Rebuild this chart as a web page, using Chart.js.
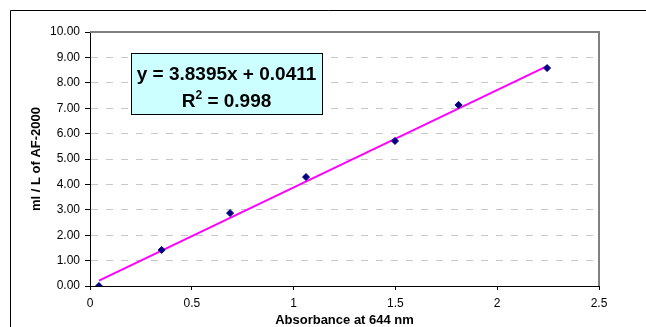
<!DOCTYPE html>
<html>
<head>
<meta charset="utf-8">
<script src="https://cdn.jsdelivr.net/npm/chart.js@4/dist/chart.umd.min.js"></script>
<style>
  html, body { margin: 0; padding: 0; background: #fff; }
  #wrap { position: relative; width: 646px; height: 327px; }
</style>
</head>
<body>
<div id="wrap"><canvas id="myChart" width="646" height="327"></canvas></div>
<script>
// Measured points (absorbance vs. ml/L)
const absorbance = [0.044, 0.352, 0.688, 1.061, 1.498, 1.81, 2.245];
const concentration = [0.0, 1.42, 2.87, 4.29, 5.71, 7.13, 8.58];

// Trendline endpoints
const trendX = [0.044, 2.245];
const trendY = [0.21, 8.66];

const xTicks = [0, 0.5, 1, 1.5, 2, 2.5];
const equationText = 'y = 3.8395x + 0.0411';
const r2Text = ['R', '2', ' = 0.998'];

Chart.defaults.font.family = '"Liberation Sans", Arial, sans-serif';
Chart.defaults.color = '#000';

// outer frame + plot frame + equation box
const decorations = {
    id: 'decorations',
    beforeDraw(chart) {
        const c = chart.ctx;
        c.save();
        c.fillStyle = '#fff';
        c.fillRect(0, 0, chart.width, chart.height);
        c.strokeStyle = '#000';
        c.lineWidth = 1;
        c.beginPath();
        c.moveTo(10.5, chart.height + 2);
        c.lineTo(10.5, 10.5);
        c.lineTo(chart.width + 2, 10.5);
        c.stroke();
        c.restore();
    },
    afterDatasetsDraw(chart) {
        const c = chart.ctx;
        const a = chart.chartArea;
        c.save();
        c.strokeStyle = '#808080';
        c.lineWidth = 2;
        c.beginPath();
        c.moveTo(a.left, a.top);
        c.lineTo(a.right, a.top);
        c.lineTo(a.right, a.bottom);
        c.stroke();

        // equation box
        const bx = 131, by = 53, bw = 191, bh = 61;
        const cx = bx + bw / 2;
        c.fillStyle = '#ccffff';
        c.fillRect(bx, by, bw, bh);
        c.strokeStyle = '#000';
        c.lineWidth = 1;
        c.strokeRect(bx + 0.5, by + 0.5, bw, bh);
        c.fillStyle = '#000';
        const big = 'bold 19px "Liberation Sans", Arial, sans-serif';
        const small = 'bold 12px "Liberation Sans", Arial, sans-serif';
        c.font = big;
        c.textAlign = 'center';
        c.textBaseline = 'alphabetic';
        c.fillText(equationText, cx, 80);

        // R² line: superscript drawn smaller and raised
        c.textAlign = 'left';
        c.font = big;
        const wR = c.measureText(r2Text[0]).width;
        const wRest = c.measureText(r2Text[2]).width;
        c.font = small;
        const w2 = c.measureText(r2Text[1]).width;
        let x = cx - (wR + w2 + wRest) / 2;
        const base = 107;
        c.font = big;
        c.fillText(r2Text[0], x, base);
        x += wR;
        c.font = small;
        c.fillText(r2Text[1], x, base - 8);
        x += w2;
        c.font = big;
        c.fillText(r2Text[2], x, base);
        c.restore();
    }
};

const ctx = document.getElementById('myChart').getContext('2d');
const myChart = new Chart(ctx, {
    type: 'scatter',
    data: {
        datasets: [{
            label: 'data',
            data: absorbance.map((x, i) => ({ x: x, y: concentration[i] })),
            pointStyle: 'rectRot',
            pointRadius: 3.5,
            backgroundColor: '#000080',
            borderColor: '#000080',
            borderWidth: 1,
            order: 0
        }, {
            label: 'trend',
            type: 'line',
            data: trendX.map((x, i) => ({ x: x, y: trendY[i] })),
            borderColor: '#ff00ff',
            borderWidth: 2,
            pointRadius: 0,
            fill: false,
            order: 1
        }]
    },
    options: {
        responsive: false,
        animation: false,
        layout: { padding: { top: 32, right: 47, left: 0, bottom: 0 } },
        plugins: {
            legend: { display: false },
            tooltip: { enabled: false }
        },
        scales: {
            x: {
                type: 'linear',
                min: 0,
                max: 2.5,
                afterBuildTicks: axis => { axis.ticks = xTicks.map(v => ({ value: v })); },
                afterFit: axis => { axis.height = 41; },
                ticks: {
                    font: { size: 12 },
                    padding: 6,
                    maxRotation: 0,
                    callback: v => String(v)
                },
                grid: {
                    drawOnChartArea: false,
                    drawTicks: true,
                    tickLength: 4,
                    tickColor: '#000'
                },
                border: { color: '#000', width: 1 },
                title: {
                    display: true,
                    text: 'Absorbance at 644 nm',
                    font: { size: 13, weight: 'bold', lineHeight: 1 },
                    padding: { top: 0, bottom: 0 }
                }
            },
            y: {
                min: 0,
                max: 10,
                afterFit: axis => { axis.width = 90; },
                ticks: {
                    stepSize: 1,
                    font: { size: 12 },
                    padding: 5,
                    callback: v => v.toFixed(2)
                },
                grid: {
                    color: '#c8c8c8',
                    lineWidth: 1,
                    drawTicks: true,
                    tickLength: 5,
                    tickColor: '#000',
                    tickBorderDash: []
                },
                border: { color: '#000', width: 1, dash: [7, 8] },
                title: {
                    display: true,
                    text: 'ml / L of AF-2000',
                    font: { size: 13, weight: 'bold' },
                    padding: { top: 29, bottom: 0 }
                }
            }
        }
    },
    plugins: [decorations]
});
</script>
</body>
</html>
